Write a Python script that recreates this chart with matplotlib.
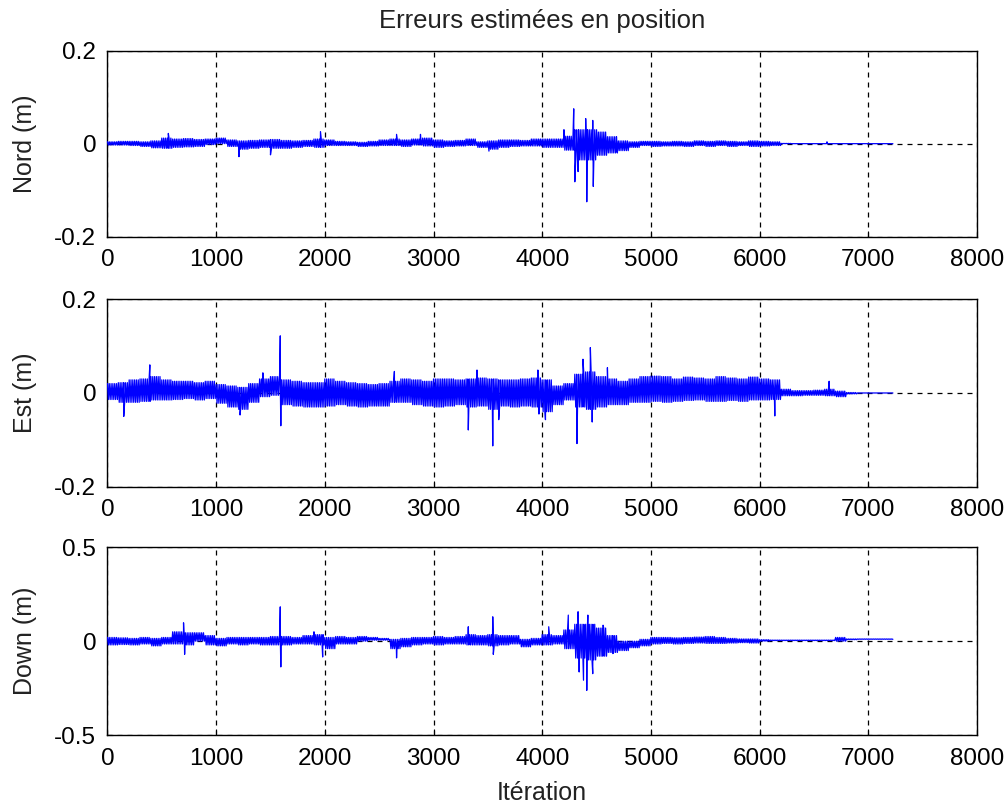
import numpy as np
import matplotlib.pyplot as plt

# Envelope of each error signal per 100-iteration bin
nord_hi = [0.004, 0.005, 0.005, 0.004, 0.006, 0.012, 0.010, 0.011, 0.009, 0.010,
           0.012, 0.008, 0.006, 0.007, 0.008, 0.009, 0.007, 0.006, 0.007, 0.010,
           0.008, 0.005, 0.004, 0.003, 0.005, 0.008, 0.010, 0.008, 0.010, 0.012,
           0.008, 0.006, 0.007, 0.010, 0.004, 0.006, 0.008, 0.008, 0.007, 0.010,
           0.010, 0.010, 0.016, 0.030, 0.030, 0.025, 0.015, 0.006, 0.004, 0.005,
           0.005, 0.004, 0.005, 0.004, 0.006, 0.005, 0.006, 0.005, 0.004, 0.006,
           0.005, 0.004, 0.0005, 0.0, 0.0, 0.0, 0.0, 0.0, 0.0, 0.0,
           0.0, 0.0, 0.0]
nord_lo = [-0.003, -0.003, -0.004, -0.006, -0.009, -0.010, -0.008, -0.007, -0.006, -0.002,
           0.000, -0.006, -0.012, -0.010, -0.008, -0.010, -0.010, -0.008, -0.006, -0.008,
           -0.004, -0.004, -0.004, -0.006, -0.005, -0.004, -0.004, -0.006, -0.003, -0.005,
           -0.008, -0.006, -0.005, -0.004, -0.008, -0.012, -0.008, -0.006, -0.005, -0.005,
           -0.008, -0.008, -0.014, -0.035, -0.035, -0.025, -0.020, -0.015, -0.008, -0.004,
           -0.006, -0.005, -0.005, -0.006, -0.004, -0.006, -0.004, -0.006, -0.004, -0.006,
           -0.005, -0.004, 0.0, 0.0, 0.0, 0.0, 0.0, 0.0, 0.0, 0.0,
           0.0, 0.0, 0.0]
nord_spike_x = [560, 1210, 1500, 1960, 2660, 2880, 3510, 4200, 4290, 4300,
                4330, 4400, 4410, 4465, 4470, 4500, 4680, 6620]
nord_spike_y = [0.022, -0.028, -0.024, 0.026, 0.020, 0.020, -0.016, 0.030, 0.075, -0.082,
                -0.060, 0.054, -0.125, 0.050, -0.092, 0.030, -0.016, 0.004]

est_hi = [0.020, 0.022, 0.028, 0.030, 0.035, 0.028, 0.025, 0.025, 0.022, 0.025,
          0.018, 0.015, 0.012, 0.020, 0.030, 0.035, 0.028, 0.025, 0.022, 0.022,
          0.030, 0.025, 0.022, 0.020, 0.018, 0.020, 0.025, 0.030, 0.028, 0.025,
          0.030, 0.030, 0.028, 0.030, 0.032, 0.030, 0.028, 0.028, 0.030, 0.032,
          0.028, 0.015, 0.020, 0.040, 0.045, 0.035, 0.030, 0.025, 0.030, 0.035,
          0.036, 0.035, 0.030, 0.034, 0.032, 0.030, 0.035, 0.032, 0.030, 0.034,
          0.030, 0.028, 0.008, 0.005, 0.005, 0.006, 0.008, 0.004, 0.001, 0.0,
          0.0, 0.0, 0.0]
est_lo = [-0.014, -0.020, -0.020, -0.018, -0.015, -0.015, -0.014, -0.012, -0.015, -0.012,
          -0.022, -0.030, -0.035, -0.020, -0.008, -0.005, -0.025, -0.028, -0.030, -0.030,
          -0.028, -0.025, -0.028, -0.030, -0.028, -0.028, -0.020, -0.020, -0.025, -0.028,
          -0.030, -0.028, -0.025, -0.030, -0.028, -0.035, -0.028, -0.030, -0.028, -0.030,
          -0.040, -0.025, -0.015, -0.030, -0.035, -0.030, -0.025, -0.025, -0.020, -0.020,
          -0.018, -0.020, -0.018, -0.016, -0.015, -0.018, -0.018, -0.016, -0.018, -0.015,
          -0.015, -0.014, -0.006, -0.006, -0.005, -0.005, -0.006, -0.008, -0.002, 0.0,
          0.0, 0.0, 0.0]
est_spike_x = [150, 390, 1220, 1430, 1590, 1595, 2640, 3320, 3400, 3545,
               3600, 3960, 3970, 4030, 4320, 4375, 4443, 4460, 4600, 6140, 6640]
est_spike_y = [-0.050, 0.060, -0.047, 0.043, 0.122, -0.070, 0.046, -0.079, 0.049, -0.113,
               -0.057, 0.049, -0.045, -0.057, -0.108, 0.072, 0.097, -0.062, 0.054, -0.049, 0.025]

down_hi = [0.020, 0.018, 0.015, 0.020, 0.015, 0.020, 0.050, 0.045, 0.045, 0.030,
           0.015, 0.020, 0.020, 0.020, 0.020, 0.025, 0.025, 0.020, 0.030, 0.035,
           0.020, 0.025, 0.020, 0.025, 0.020, 0.015, 0.010, 0.015, 0.020, 0.020,
           0.025, 0.020, 0.025, 0.035, 0.030, 0.035, 0.030, 0.030, 0.010, 0.015,
           0.035, 0.030, 0.060, 0.090, 0.090, 0.070, 0.030, 0.000, 0.000, 0.010,
           0.020, 0.020, 0.018, 0.020, 0.022, 0.025, 0.020, 0.015, 0.012, 0.012,
           0.008, 0.006, 0.006, 0.006, 0.006, 0.006, 0.006, 0.020, 0.012, 0.012,
           0.012, 0.012, 0.012]
down_lo = [-0.020, -0.018, -0.020, -0.015, -0.025, -0.015, -0.015, -0.020, 0.000, -0.020,
           -0.025, -0.015, -0.020, -0.015, -0.020, -0.020, -0.020, -0.015, -0.015, -0.020,
           -0.040, -0.015, -0.015, 0.000, 0.005, 0.005, -0.040, -0.030, -0.020, -0.015,
           -0.020, -0.015, -0.015, -0.020, -0.020, -0.025, -0.020, -0.015, -0.030, -0.020,
           -0.020, -0.015, -0.040, -0.090, -0.100, -0.080, -0.060, -0.050, -0.035, -0.025,
           -0.015, -0.012, -0.015, -0.012, -0.010, -0.012, -0.012, -0.010, -0.008, -0.010,
           0.000, 0.003, 0.003, 0.003, 0.003, 0.003, 0.003, 0.000, 0.008, 0.010,
           0.010, 0.010, 0.010]
down_spike_x = [700, 710, 1590, 1595, 1900, 1980, 2660, 3320, 3545, 3550,
                4060, 4240, 4330, 4340, 4380, 4410, 4420, 4465, 4560, 4650]
down_spike_y = [0.098, -0.070, 0.183, -0.137, 0.050, -0.084, -0.089, 0.077, 0.130, -0.070,
                0.077, 0.139, 0.157, -0.164, -0.208, -0.262, 0.139, -0.173, 0.085, -0.066]

last_iter = 7230
bin_size = 100

panels = [
    ("Nord (m)", nord_hi, nord_lo, nord_spike_x, nord_spike_y, [-0.2, 0, 0.2], ["-0.2", "0", "0.2"]),
    ("Est (m)", est_hi, est_lo, est_spike_x, est_spike_y, [-0.2, 0, 0.2], ["-0.2", "0", "0.2"]),
    ("Down (m)", down_hi, down_lo, down_spike_x, down_spike_y, [-0.5, 0, 0.5], ["-0.5", "0", "0.5"]),
]
xticks = [0, 1000, 2000, 3000, 4000, 5000, 6000, 7000, 8000]
steps = 12  # sub-points per bin


def trace(hi, lo, sx, sy):
    # walk back and forth between the bin envelope, then add the spikes
    xs, ys = [], []
    for i in range(len(hi)):
        for k in range(steps):
            x = i * bin_size + k * bin_size / steps
            if x > last_iter:
                break
            xs.append(x)
            ys.append(hi[i] if k % 2 == 0 else lo[i])
    xs = list(xs) + list(sx)
    ys = list(ys) + list(sy)
    order = np.argsort(xs, kind="stable")
    return np.array(xs)[order], np.array(ys)[order]


plt.rcParams['font.family'] = ['Liberation Sans', 'DejaVu Sans']

fig = plt.figure(figsize=(10.08, 8.08), dpi=100)
boxes = [(0.1066, 0.7071, 0.8626, 0.2302),
         (0.1066, 0.3977, 0.8626, 0.2319),
         (0.1066, 0.0903, 0.8626, 0.2323)]

for box, (lab, hi, lo, sx, sy, yt, ytl) in zip(boxes, panels):
    ax = fig.add_axes(box)
    x, y = trace(hi, lo, sx, sy)
    ax.plot(x, y, color="#0000ff", linewidth=0.9, zorder=3)
    ax.set_xlim(0, 8000)
    ax.set_ylim(yt[0], yt[-1])
    ax.set_xticks(xticks)
    ax.set_xticklabels([str(t) for t in xticks])
    ax.set_yticks(yt)
    ax.set_yticklabels(ytl)
    ax.grid(True, color="black", linestyle=(0, (4, 4)), linewidth=0.9)
    ax.tick_params(direction="in", length=4, labelsize=17.5, pad=9, colors="black")
    ax.tick_params(axis="y", pad=8)
    for sp in ax.spines.values():
        sp.set_linewidth(1.0)
    ax.set_ylabel(lab, fontsize=18, color="#222222")
    ax.yaxis.set_label_coords(-0.081, 0.5)
    if lab.startswith("Nord"):
        ax.set_title("Erreurs estimées en position", fontsize=18.5, pad=16, color="#222222")
    if lab.startswith("Down"):
        ax.set_xlabel("Itération", fontsize=18, labelpad=8, color="#222222")

fig.savefig("out.png", dpi=100)
